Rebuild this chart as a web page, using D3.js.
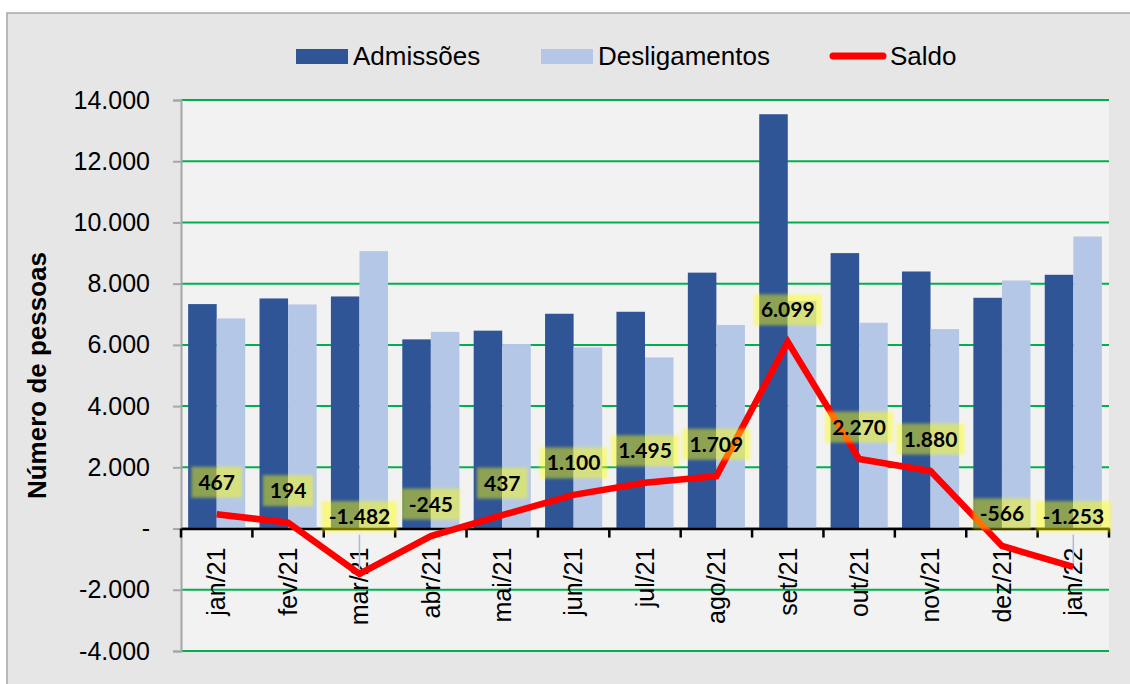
<!DOCTYPE html>
<html><head><meta charset="utf-8">
<script src="https://cdn.jsdelivr.net/npm/d3@7"></script>
<style>body{margin:0;background:#fff}svg{display:block}</style>
</head><body>
<svg id="c" width="1130" height="684"></svg>
<script>
const categories = ["jan/21","fev/21","mar/21","abr/21","mai/21","jun/21","jul/21","ago/21","set/21","out/21","nov/21","dez/21","jan/22"];
const admissoes = [7333,7517,7582,6180,6465,7017,7082,8360,13535,8998,8398,7539,8290];
const desligamentos = [6864,7321,9063,6425,6028,5917,5591,6651,7436,6723,6517,8104,9540];
const saldo = [467,194,-1482,-245,437,1100,1495,1709,6099,2270,1880,-566,-1253];
const yTicks = [-4000,-2000,0,2000,4000,6000,8000,10000,12000,14000];
const seriesNames = ["Admissões","Desligamentos","Saldo"];

const svg = d3.select("#c");
const loc = d3.formatLocale({decimal:",", thousands:".", grouping:[3], currency:["R$",""], minus:"-"});
const fmt = loc.format(",d");

// chart area
svg.append("rect").attr("x",7).attr("y",13).attr("width",1130).attr("height",700)
  .attr("fill","#e6e6e6").attr("stroke","#a6a6a6").attr("stroke-width",1.5);

const L=181, R=1109, T=100, B=651;
const x0 = d3.scaleBand().domain(categories).range([L,R]).padding(0);
const bw = x0.bandwidth();
const x1 = d3.scaleBand().domain([0,1]).range([bw*0.1,bw*0.9]).padding(0);
const y = d3.scaleLinear().domain([-4000,14000]).range([B,T]);

svg.append("rect").attr("x",L).attr("y",T).attr("width",R-L).attr("height",B-T).attr("fill","#f2f2f2");

// gridlines
svg.append("g").selectAll("line").data(yTicks).join("line")
  .attr("x1",L).attr("x2",R).attr("y1",d=>y(d)).attr("y2",d=>y(d))
  .attr("stroke","#00b050").attr("stroke-width",2);

// y axis
const yAxis = d3.axisLeft(y).tickValues(yTicks).tickSize(8).tickPadding(23)
  .tickFormat(d=> d===0 ? "-" : fmt(d));
const gy = svg.append("g").attr("transform",`translate(${L},0)`).call(yAxis);
gy.select(".domain").attr("stroke","#a6a6a6").attr("stroke-width",2);
gy.selectAll(".tick line").attr("stroke","#a6a6a6").attr("stroke-width",2);
gy.selectAll(".tick text").attr("font-family","Liberation Sans, Arial, sans-serif")
  .attr("font-size",25).attr("fill","#000");

// bars
const series = [admissoes, desligamentos];
const colors = ["#2f5597","#b4c7e7"];
series.forEach((vals,si)=>{
  svg.append("g").selectAll("rect").data(vals).join("rect")
    .attr("x",(d,i)=>x0(categories[i])+x1(si))
    .attr("width",x1.bandwidth())
    .attr("y",d=>y(Math.max(0,d)))
    .attr("height",d=>Math.abs(y(d)-y(0)))
    .attr("fill",colors[si]);
});

// x axis at zero
const xAxis = d3.axisBottom(x0).tickSize(0).tickFormat(d=>d);
const gx = svg.append("g").attr("transform",`translate(0,${y(0)})`).call(xAxis);
gx.select(".domain").attr("stroke","#000").attr("stroke-width",2.5);
gx.selectAll(".tick text").attr("font-family","Liberation Sans, Arial, sans-serif")
  .attr("font-size",25).attr("fill","#000")
  .attr("transform","rotate(-90)").attr("text-anchor","end")
  .attr("x",-19).attr("y",0).attr("dy","0.35em");
// boundary ticks
const bounds = categories.map(c=>x0(c)).concat([R]);
svg.append("g").selectAll("line").data(bounds).join("line")
  .attr("x1",d=>d).attr("x2",d=>d).attr("y1",y(0)).attr("y2",y(0)+9)
  .attr("stroke","#000").attr("stroke-width",2.5);

// y title
svg.append("text").attr("transform",`translate(46,${(T+B)/2}) rotate(-90)`)
  .attr("text-anchor","middle").attr("font-family","Liberation Sans, Arial, sans-serif")
  .attr("font-weight","bold").attr("font-size",26).text("Número de pessoas");

// labels positions
const cx = i => x0(categories[i]) + bw/2;
const labelY = saldo.map(v => Math.min(y(v)-32, y(0)-12));

// leader lines for moved labels
svg.append("g").selectAll("line").data(saldo.map((v,i)=>i).filter(i=>labelY[i] < y(saldo[i])-40)).join("line")
  .attr("x1",i=>cx(i)).attr("x2",i=>cx(i)).attr("y1",i=>labelY[i]+18).attr("y2",i=>y(saldo[i])-4)
  .attr("stroke","#a9bbd9").attr("stroke-width",1.5);

// saldo line
svg.append("path").datum(saldo)
  .attr("d",d3.line().x((d,i)=>cx(i)).y(d=>y(d)))
  .attr("fill","none").attr("stroke","#ff0000").attr("stroke-width",6.5).attr("stroke-linejoin","miter");

// data labels
const defs = svg.append("defs");
defs.append("filter").attr("id","glow").attr("x","-30%").attr("y","-30%").attr("width","160%").attr("height","160%")
  .append("feGaussianBlur").attr("stdDeviation",1.6);
const lg = svg.append("g");
saldo.forEach((v,i)=>{
  const g = lg.append("g").attr("transform",`translate(${cx(i)},${labelY[i]})`);
  const r = g.append("rect").attr("fill","#ffff00").attr("fill-opacity",0.45).attr("filter","url(#glow)");
  const t = g.append("text").attr("text-anchor","middle").attr("dy","0.36em")
    .attr("font-family","Lato, 'Noto Sans', sans-serif").attr("font-weight","bold")
    .attr("font-size",21).attr("fill","#000").text(fmt(v));
  const w = t.node().getComputedTextLength();
  r.attr("x",-w/2-7).attr("y",-15.5).attr("width",w+14).attr("height",31);
});

// legend
const leg = svg.append("g");
const legItems = [
  {name:seriesNames[0], type:"rect", color:colors[0], x:296},
  {name:seriesNames[1], type:"rect", color:colors[1], x:541},
  {name:seriesNames[2], type:"line", color:"#ff0000", x:830}
];
legItems.forEach(it=>{
  if(it.type==="rect"){
    leg.append("rect").attr("x",it.x).attr("y",49).attr("width",52).attr("height",15).attr("fill",it.color);
  } else {
    leg.append("line").attr("x1",it.x+3).attr("x2",it.x+53).attr("y1",56).attr("y2",56)
      .attr("stroke",it.color).attr("stroke-width",7).attr("stroke-linecap","round");
  }
  leg.append("text").attr("x",it.x+(it.type==="rect"?57:60)).attr("y",56).attr("dy","0.36em")
    .attr("font-family","Liberation Sans, Arial, sans-serif").attr("font-size",26).attr("fill","#000").text(it.name);
});
</script>
</body></html>
